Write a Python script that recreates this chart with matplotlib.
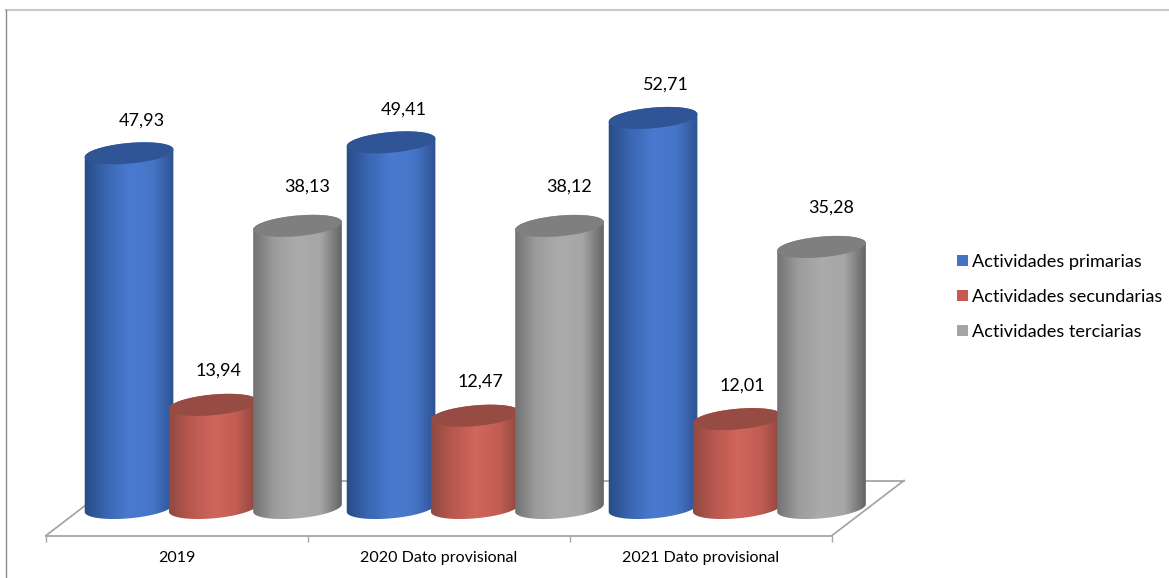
import numpy as np
import matplotlib
matplotlib.use('Agg')
import matplotlib.pyplot as plt
from matplotlib.colors import LinearSegmentedColormap
from matplotlib.lines import Line2D
from matplotlib.patches import Patch, Polygon

categories = ['2019', '2020 Dato provisional', '2021 Dato provisional']
series_names = ['Actividades primarias', 'Actividades secundarias', 'Actividades terciarias']
primarias = [47.93, 49.41, 52.71]
secundarias = [13.94, 12.47, 12.01]
terciarias = [38.13, 38.12, 35.28]

# styles per series
legend_colors = ['#4472c4', '#c55a52', '#a5a5a5']
top_colors = ['#2f5597', '#964b43', '#7f7f7f']
side_colors = [
    ['#284a84', '#3a66b2', '#4a7ad0', '#4675c8', '#2c4f8c'],
    ['#8c4840', '#b8584f', '#d0665c', '#c25d54', '#854339'],
    ['#6e6e6e', '#9c9c9c', '#ababab', '#a6a6a6', '#5e5e5e'],
]
label_shift = [(13, 33), (5, 34), (10, 39)]  # pixels, from bar top centre

W, H = 1169, 578
LEFT, RIGHT = 46, 832   # floor front edge, pixels
ZERO = 508              # pixel row of value 0
PX_X = (RIGHT - LEFT) / 3
PX_Y = 7.4              # pixels per unit
YMAX = 60

plt.rcParams['font.family'] = ['Lato', 'DejaVu Sans']
plt.rcParams['font.size'] = 12

fig = plt.figure(figsize=(W / 100, H / 100), dpi=100)
ax = fig.add_axes([LEFT / W, (H - ZERO) / H, (RIGHT - LEFT) / W, YMAX * PX_Y / H])
ax.set_xlim(0, 3)
ax.set_ylim(0, YMAX)

# cylinder shape, in pixels around centre
A, B = 44.5, 10.3
TILT = np.radians(5.2)


def ellipse_pts(cx, cy, t):
    # returns data coords for a tilted ellipse around data point (cx, cy)
    dx = A * np.cos(t) * np.cos(TILT) - B * np.sin(t) * np.sin(TILT)
    dy = A * np.cos(t) * np.sin(TILT) + B * np.sin(t) * np.cos(TILT)
    return np.column_stack([cx + dx / PX_X, cy + dy / PX_Y])


def cylinder(cx, value, s):
    low = ellipse_pts(cx, 0, np.linspace(np.pi, 2 * np.pi, 60))
    up = ellipse_pts(cx, value, np.linspace(0, np.pi, 60))
    body = Polygon(np.vstack([low, up]), closed=True, transform=ax.transData, fc='none', ec='none',
                   clip_on=False)
    ax.add_patch(body)
    cmap = LinearSegmentedColormap.from_list('side', side_colors[s])
    grad = np.linspace(0, 1, 200).reshape(1, -1)
    half = (A + 2) / PX_X
    im = ax.imshow(grad, cmap=cmap, aspect='auto', interpolation='bilinear',
                   extent=[cx - half, cx + half, -3, value + 3], zorder=2 + s * 0.1)
    im.set_clip_box(fig.bbox)
    im.set_clip_path(body)
    top = Polygon(ellipse_pts(cx, value, np.linspace(0, 2 * np.pi, 120)), closed=True,
                  fc=top_colors[s], ec='none', zorder=2 + s * 0.1, clip_on=False)
    ax.add_patch(top)


first_bar = 0.317
bar_step = 0.3215
for s, vals in enumerate([primarias, secundarias, terciarias]):
    for i, v in enumerate(vals):
        cx = i + first_bar + s * bar_step
        cylinder(cx, v, s)
        ax.annotate(f'{v:.2f}'.replace('.', ','), (cx, v), xytext=label_shift[s],
                    textcoords='offset pixels', ha='center', va='center',
                    fontsize=13, color='#000000', annotation_clip=False, zorder=5)
ax.set_xlim(0, 3)
ax.set_ylim(0, YMAX)

# floor of the 3d box
floor_y = -27.5 / PX_Y
back_y = 27.5 / PX_Y
back_dx = 72 / PX_X
grey = '#a6a6a6'
ax.plot([0, back_dx], [floor_y, back_y], color=grey, lw=1.3, clip_on=False, zorder=1)
ax.plot([3, 3 + back_dx], [floor_y, back_y], color=grey, lw=1.3, clip_on=False, zorder=1)
ax.plot([back_dx, 3 + back_dx], [back_y, back_y], color=grey, lw=1.3, clip_on=False, zorder=1)

for side in ['top', 'left', 'right']:
    ax.spines[side].set_visible(False)
ax.spines['bottom'].set_position(('data', floor_y))
ax.spines['bottom'].set_color(grey)
ax.spines['bottom'].set_linewidth(1.3)
ax.patch.set_visible(False)
ax.set_yticks([])
ax.set_xticks([0, 1, 2, 3])
ax.set_xticklabels([])
ax.tick_params(axis='x', which='major', length=4.5, width=1, color=grey)
ax.set_xticks([0.5, 1.5, 2.5], minor=True)
ax.set_xticklabels(categories, minor=True)
ax.tick_params(axis='x', which='minor', length=0, pad=11, labelsize=11.5, labelcolor='#000000')

# outer frame, only top and left show
fig.add_artist(Line2D([6 / W, 1], [1 - 10 / H, 1 - 10 / H], color='#c8c8c8', lw=1.5))
fig.add_artist(Line2D([6 / W, 6 / W], [1 - 10 / H, 0], color='#8c8c8c', lw=1))

handles = [Patch(fc=c, ec='none') for c in legend_colors]
fig.legend(handles, series_names, loc='center left', bbox_to_anchor=(957 / W, 1 - 297 / H),
           frameon=False, fontsize=13.1, handlelength=0.6, handleheight=0.6,
           handletextpad=0.22, labelspacing=1.05, borderpad=0, borderaxespad=0)

fig.savefig('out.png', dpi=100)
